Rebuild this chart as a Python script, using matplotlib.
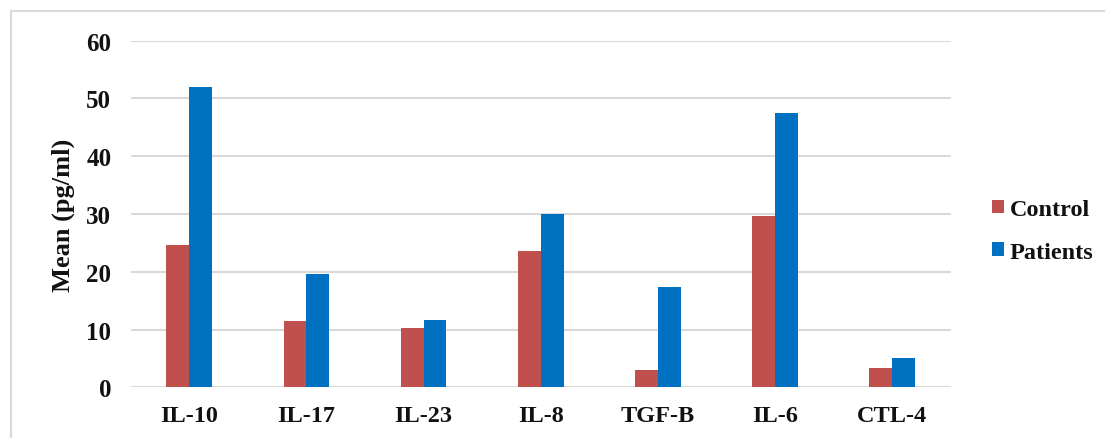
import matplotlib
matplotlib.use("Agg")
import matplotlib.pyplot as plt
import numpy as np
from matplotlib.patches import Rectangle

categories = ["IL-10", "IL-17", "IL-23", "IL-8", "TGF-B", "IL-6", "CTL-4"]
control = [24.7, 11.4, 10.3, 23.6, 3.0, 29.6, 3.4]
patients = [52.0, 19.6, 11.6, 30.0, 17.4, 47.5, 5.0]
yticks = [0, 10, 20, 30, 40, 50, 60]

plt.rcParams['font.family'] = ['Liberation Serif', 'DejaVu Serif']
plt.rcParams['font.weight'] = 'bold'

W, H = 1105, 439
fig = plt.figure(figsize=(W / 100, H / 100), dpi=100)
fig.patch.set_facecolor('white')

# outer chart border
fig.patches.append(Rectangle((11 / W, -0.05), 1.2, 1 - 12 / H + 0.05,
                             transform=fig.transFigure, fill=False,
                             edgecolor='#D9D9D9', linewidth=1.5))

ax = fig.add_axes([130.7 / W, 1 - 388.3 / H, 820 / W, (388.3 - 41.7) / H])
x = np.arange(len(categories))
bw = 0.195
ax.bar(x - bw / 2, control, width=bw, color='#C0504D', label='Control', zorder=3)
ax.bar(x + bw / 2, patients, width=bw, color='#0070C0', label='Patients', zorder=3)

ax.set_xlim(-0.5, len(categories) - 0.5)
ax.set_ylim(0, 60)
ax.set_yticks(yticks)
ax.set_xticks(x)
ax.set_xticklabels(categories)
ax.grid(axis='y', color='#D9D9D9', linewidth=1.5, zorder=0)
for s in ax.spines.values():
    s.set_visible(False)
ax.tick_params(axis='both', length=0, labelcolor='#111111')
ax.tick_params(axis='y', labelsize=18, pad=14)
ax.tick_params(axis='x', labelsize=17.5, pad=13)
for lbl in ax.get_xticklabels() + ax.get_yticklabels():
    lbl.set_fontweight('bold')
ax.set_ylabel('Mean (pg/ml)', fontsize=19, fontweight='bold', labelpad=8,
              color='#111111')

leg = fig.legend(loc='center left', bbox_to_anchor=(982 / W, 1 - 232 / H),
                 frameon=False, fontsize=17.5, handlelength=0.5, handleheight=0.5,
                 handletextpad=0.25, labelspacing=0.9, borderaxespad=0)
for t in leg.get_texts():
    t.set_fontweight('bold')
    t.set_color('#111111')

fig.savefig('out.png', dpi=100)
